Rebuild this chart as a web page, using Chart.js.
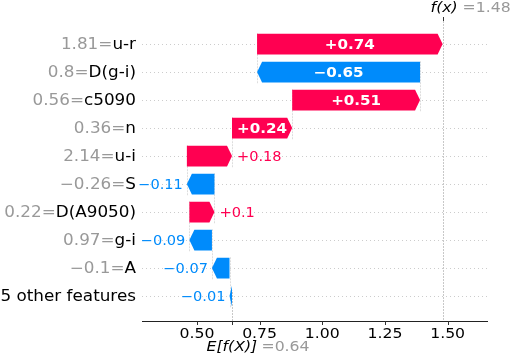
<!DOCTYPE html>
<html>
<head>
<meta charset="utf-8">
<script src="https://cdn.jsdelivr.net/npm/chart.js@4.4.1/dist/chart.umd.min.js"></script>
<style>
  html, body { margin: 0; padding: 0; background: #fff; }
  #wrap { width: 515px; height: 357px; }
</style>
</head>
<body>
<div id="wrap"><canvas id="shap" width="515" height="357"></canvas></div>
<script>
/* ---- Data (top row first) ---- */
const featureNames  = ['u-r', 'D(g-i)', 'c5090', 'n', 'u-i', 'S', 'D(A9050)', 'g-i', 'A', '5 other features'];
const featureValues = ['1.81', '0.8', '0.56', '0.36', '2.14', '−0.26', '0.22', '0.97', '−0.1', ''];
const shapValues    = [0.74, -0.65, 0.51, 0.24, 0.18, -0.11, 0.1, -0.09, -0.07, -0.01];
const shapLabels    = ['+0.74', '−0.65', '+0.51', '+0.24', '+0.18', '−0.11', '+0.1', '−0.09', '−0.07', '−0.01'];
const baseValue = 0.64;   // E[f(X)]
const fxValue   = 1.48;   // f(x)
const xTicks      = [0.50, 0.75, 1.00, 1.25, 1.50];
const xTickLabels = ['0.50', '0.75', '1.00', '1.25', '1.50'];

const RED  = '#ff0051';
const BLUE = '#008bfb';
const GRAY = '#999999';
const FONT = "'DejaVu Sans', sans-serif";
const SX = 1.12;   // the picture's text is a bit wider than tall
const HEAD = 5;    // arrow head length, px

// waterfall spans, walking up from the base value
const spans = new Array(shapValues.length);
let cum = baseValue;
for (let i = shapValues.length - 1; i >= 0; i--) {
  spans[i] = [cum, cum + shapValues[i]];
  cum += shapValues[i];
}

/* ---- helpers for stretched text ---- */
function txt(ctx, s, x, y, font, color, align, sx = SX) {
  ctx.save();
  ctx.font = font;
  ctx.fillStyle = color;
  ctx.textAlign = align || 'left';
  ctx.textBaseline = 'middle';
  ctx.translate(x, y);
  ctx.scale(sx, 1);
  ctx.fillText(s, 0, 0);
  ctx.restore();
}

function txtWidth(ctx, s, font) {
  ctx.save();
  ctx.font = font;
  const w = ctx.measureText(s).width * SX;
  ctx.restore();
  return w;
}

/* ---- plugin: arrows, guide lines, labels ---- */
const waterfall = {
  id: 'waterfall',
  beforeDatasetsDraw(chart) {
    const { ctx, chartArea: a, scales: { x, y } } = chart;
    ctx.save();
    ctx.lineWidth = 1;

    // dotted row lines
    ctx.strokeStyle = '#cccccc';
    ctx.setLineDash([1, 3]);
    featureNames.forEach((_, i) => {
      const py = Math.round(y.getPixelForValue(i)) + 0.5;
      ctx.beginPath();
      ctx.moveTo(a.left, py);
      ctx.lineTo(a.right, py);
      ctx.stroke();
    });

    // dashed connectors between rows
    ctx.strokeStyle = '#dddddd';
    ctx.setLineDash([2, 1]);
    for (let i = 0; i < spans.length - 1; i++) {
      const px = Math.round(x.getPixelForValue(spans[i][0])) + 0.5;
      ctx.beginPath();
      ctx.moveTo(px, y.getPixelForValue(i + 1 + 0.4));
      ctx.lineTo(px, y.getPixelForValue(i - 0.4));
      ctx.stroke();
    }

    // f(x) and E[f(X)] lines
    ctx.strokeStyle = '#c8c8c8';
    const fxPx = Math.round(x.getPixelForValue(fxValue)) + 0.5;
    ctx.beginPath();
    ctx.moveTo(fxPx, a.top);
    ctx.lineTo(fxPx, a.bottom);
    ctx.stroke();
    const ePx = Math.round(x.getPixelForValue(baseValue)) + 0.5;
    ctx.beginPath();
    ctx.moveTo(ePx, a.bottom);
    ctx.lineTo(ePx, a.bottom - (a.bottom - a.top) / featureNames.length);
    ctx.stroke();
    ctx.restore();
  },

  afterDatasetsDraw(chart) {
    const { ctx, scales: { x } } = chart;
    const meta = chart.getDatasetMeta(0);
    const boldFont = 'bold 13.5px ' + FONT;
    const smallFont = '14px ' + FONT;

    meta.data.forEach((bar, i) => {
      const { y: yc, height: h } = bar.getProps(['y', 'height'], true);
      const xs = x.getPixelForValue(spans[i][0]);
      const xe = x.getPixelForValue(spans[i][1]);
      const pos = shapValues[i] >= 0;
      const color = pos ? RED : BLUE;
      const len = Math.abs(xe - xs);
      const hl = Math.min(HEAD, len);
      const dir = pos ? 1 : -1;
      const top = yc - h / 2, bot = yc + h / 2;

      ctx.save();
      ctx.fillStyle = color;
      ctx.beginPath();
      ctx.moveTo(xs, top);
      ctx.lineTo(xe - dir * hl, top);
      ctx.lineTo(xe, yc);
      ctx.lineTo(xe - dir * hl, bot);
      ctx.lineTo(xs, bot);
      ctx.closePath();
      ctx.fill();
      ctx.restore();

      const label = shapLabels[i];
      const w = txtWidth(ctx, label, boldFont);
      if (w < len - hl) {
        txt(ctx, label, (xs + xe) / 2, yc + 1.5, boldFont, '#ffffff', 'center');
      } else if (pos) {
        txt(ctx, label, xe + 5, yc + 1.5, smallFont, color, 'left', 1.04);
      } else {
        txt(ctx, label, xe - 4, yc + 1.5, smallFont, color, 'right', 1.04);
      }
    });
  },

  afterDraw(chart) {
    const { ctx, chartArea: a, scales: { x, y } } = chart;
    const labelFont = '15px ' + FONT;
    const tickFont = '14px ' + FONT;
    const mathFont = 'italic 14px ' + FONT;
    const right = a.left - 6;

    // feature labels
    featureNames.forEach((name, i) => {
      const py = y.getPixelForValue(i) + 1.5;
      txt(ctx, name, right, py, labelFont, '#000000', 'right');
      if (featureValues[i] !== '') {
        const nw = txtWidth(ctx, name, labelFont);
        txt(ctx, featureValues[i] + '=', right - nw, py, labelFont, GRAY, 'right');
      }
    });

    // bottom axis
    ctx.save();
    ctx.strokeStyle = '#222222';
    ctx.lineWidth = 1;
    const ay = Math.round(a.bottom) + 0.5;
    ctx.beginPath();
    ctx.moveTo(a.left, ay);
    ctx.lineTo(a.right, ay);
    ctx.stroke();
    ctx.strokeStyle = '#333333';
    [...xTicks, baseValue].forEach(v => {
      const px = Math.round(x.getPixelForValue(v)) + 0.5;
      ctx.beginPath();
      ctx.moveTo(px, ay);
      ctx.lineTo(px, ay + 3.5);
      ctx.stroke();
    });
    // top f(x) tick
    const fxPx = Math.round(x.getPixelForValue(fxValue)) + 0.5;
    ctx.beginPath();
    ctx.moveTo(fxPx, a.top - 1);
    ctx.lineTo(fxPx, a.top + 3);
    ctx.stroke();
    ctx.restore();

    xTicks.forEach((v, i) => {
      txt(ctx, xTickLabels[i], x.getPixelForValue(v), a.bottom + 13, tickFont, '#000000', 'center');
    });

    // E[f(X)] and f(x) labels
    const ePx = x.getPixelForValue(baseValue);
    txt(ctx, 'E[f(X)]', ePx - 25.5, a.bottom + 26, mathFont, '#000000', 'left');
    txt(ctx, '=0.64', ePx + 29.5, a.bottom + 26, tickFont, GRAY, 'left');
    const fPx = x.getPixelForValue(fxValue);
    txt(ctx, 'f(x)', fPx - 12, 8, mathFont, '#000000', 'left');
    txt(ctx, '=1.48', fPx + 20, 8, tickFont, GRAY, 'left');
  },
};

/* ---- Chart ---- */
new Chart(document.getElementById('shap'), {
  type: 'bar',
  data: {
    datasets: [{
      data: spans.map((s, i) => ({ x: s, y: i })),
      backgroundColor: 'rgba(0,0,0,0)',
      borderWidth: 0,
      categoryPercentage: 1,
      barPercentage: 0.8,
    }],
  },
  options: {
    indexAxis: 'y',
    responsive: false,
    animation: false,
    layout: { padding: { left: 142, right: 27, top: 18, bottom: 36 } },
    scales: {
      x: { type: 'linear', min: 0.281, max: 1.661, offset: false, display: false },
      y: { type: 'linear', min: -0.93, max: 9.89, reverse: true, offset: false, display: false },
    },
    plugins: {
      legend: { display: false },
      tooltip: { enabled: false },
    },
  },
  plugins: [waterfall],
});
</script>
</body>
</html>
